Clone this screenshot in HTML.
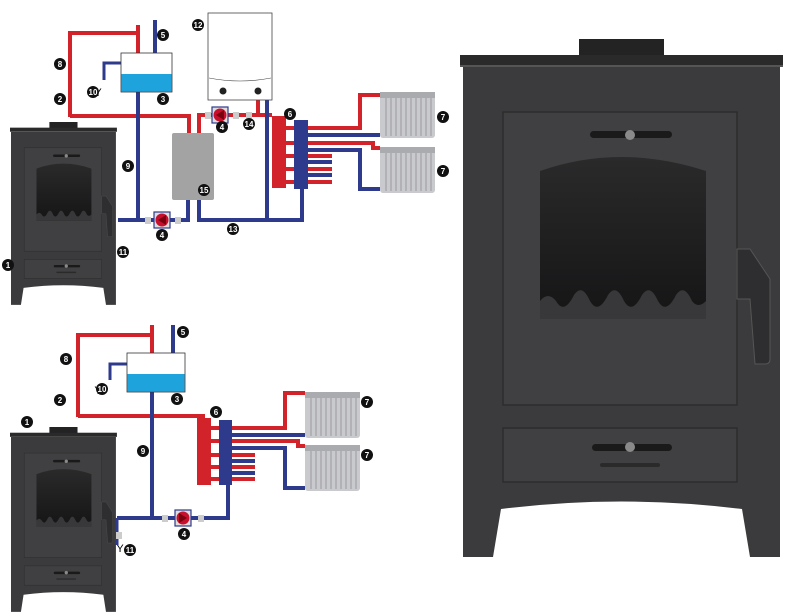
<!DOCTYPE html>
<html><head><meta charset="utf-8"><style>
html,body{margin:0;padding:0;background:#fff;}
svg{display:block}
text{font-family:"Liberation Sans",sans-serif;font-weight:bold;font-size:8px;fill:#fff;text-anchor:middle}
</style></head><body>
<svg width="792" height="614" viewBox="0 0 792 614" xmlns="http://www.w3.org/2000/svg">
<defs>
<linearGradient id="win" x1="0" y1="0" x2="0" y2="1"><stop offset="0" stop-color="#2a2a2b"/><stop offset="1" stop-color="#151516"/></linearGradient>
<g id="stove">
  <rect x="119" y="0" width="85" height="17" fill="#232324"/>
  <rect x="0" y="16" width="323" height="11" fill="#2a2a2b"/>
  <rect x="0" y="26" width="323" height="2" fill="#555"/>
  <path d="M3,28 H320 V518 H290 L282,470 Q161,455 41,470 L33,518 H3Z" fill="#3b3b3d"/>
  <rect x="43" y="73" width="234" height="293" fill="#404042" stroke="#2c2c2d" stroke-width="1.5"/>
  <path d="M80,132 Q160,104 246,132 V280 H80Z" fill="url(#win)"/>
  <path d="M80,280 V262 Q88,252 96,262 Q104,276 114,256 Q122,244 130,262 Q138,276 148,256 Q156,244 164,262 Q172,276 182,256 Q190,244 198,262 Q206,276 216,256 Q224,244 232,262 Q238,270 246,262 V280Z" fill="#38383a"/>
  <rect x="130" y="92" width="82" height="7" rx="3.5" fill="#1a1a1a"/>
  <circle cx="170" cy="96" r="5" fill="#8a8a8a"/>
  <path d="M277,210 H290 L310,240 V320 Q310,325 305,325 H295 L290,260 H277Z" fill="#2e2e30" stroke="#555" stroke-width="1"/>
  <rect x="43" y="389" width="234" height="54" fill="#404042" stroke="#2c2c2d" stroke-width="1.5"/>
  <rect x="132" y="405" width="80" height="7" rx="3.5" fill="#1a1a1a"/>
  <circle cx="170" cy="408" r="5" fill="#8a8a8a"/>
  <rect x="140" y="424" width="60" height="4" rx="2" fill="#2a2a2a"/>
</g>
<g id="rad">
  <rect x="0" y="0" width="55" height="46" rx="3" fill="#c9cacd"/>
  <g stroke="#9a9ba0" stroke-width="1">
  <line x1="6" y1="2" x2="6" y2="44"/><line x1="11" y1="2" x2="11" y2="44"/><line x1="16" y1="2" x2="16" y2="44"/><line x1="21" y1="2" x2="21" y2="44"/><line x1="26" y1="2" x2="26" y2="44"/><line x1="31" y1="2" x2="31" y2="44"/><line x1="36" y1="2" x2="36" y2="44"/><line x1="41" y1="2" x2="41" y2="44"/><line x1="46" y1="2" x2="46" y2="44"/><line x1="51" y1="2" x2="51" y2="44"/>
  </g>
  <rect x="0" y="0" width="55" height="6" fill="#aaabaf"/>
</g>
<g id="pump"><rect x="-8" y="-8" width="16" height="16" fill="#ddd" stroke="#2e3a8c" stroke-width="1.2"/><circle r="6.5" fill="#c8102e"/><path d="M-4,0 L4,-5 V5Z" fill="#7a0010"/></g>
</defs>

<use href="#stove" transform="translate(460,39)"/>
<use href="#stove" transform="translate(10,122) scale(0.331,0.353)"/>
<use href="#stove" transform="translate(10,427) scale(0.331,0.357)"/>

<!-- TOP DIAGRAM -->
<g fill="none" stroke-width="4">
 <path d="M70,117 V33 H138" stroke="#d2232a"/>
 <path d="M138,25 V53" stroke="#d2232a"/>
 <path d="M155,20 V53" stroke="#2e3a8c"/>
 <path d="M121,63 H104 V80" stroke="#2e3a8c" stroke-width="3"/>
 <path d="M70,116 H189 V133" stroke="#d2232a"/>
 <path d="M199,133 V115 H272" stroke="#d2232a"/>
 <path d="M258,100 V115" stroke="#d2232a"/>
 <path d="M138,92 V220" stroke="#2e3a8c"/>
 <path d="M118,220 H188 V200" stroke="#2e3a8c"/>
 <path d="M199,200 V220 H302 V188" stroke="#2e3a8c"/>
 <path d="M267,100 V220" stroke="#2e3a8c"/>
 <path d="M308,128 H360 V95 H380" stroke="#d2232a"/>
 <path d="M308,135 H380" stroke="#2e3a8c"/>
 <path d="M308,143 H373 V148 H380" stroke="#d2232a"/>
 <path d="M308,150 H360 V189 H380" stroke="#2e3a8c"/>
 <path d="M286,156 H332 M286,169 H332 M286,182 H332" stroke="#d2232a"/>
 <path d="M308,162 H332 M308,175 H332" stroke="#2e3a8c"/>
</g>
<rect x="121" y="53" width="51" height="39" fill="#fff" stroke="#333" stroke-width="0.8"/>
<rect x="121.5" y="74" width="50" height="17.5" fill="#1fa3dc"/>
<rect x="208" y="13" width="64" height="87" fill="#fff" stroke="#444" stroke-width="0.8"/>
<path d="M209,78 Q240,84 271,78" fill="none" stroke="#444" stroke-width="0.6"/>
<circle cx="223" cy="91" r="3.5" fill="#222"/><circle cx="258" cy="91" r="3.5" fill="#222"/>
<rect x="172" y="133" width="42" height="67" rx="2" fill="#a3a3a3"/>
<rect x="272" y="116" width="14" height="72" fill="#d2232a"/>
<rect x="294" y="120" width="14" height="69" fill="#2e3a8c"/>
<path d="M286,128 H294 M286,143 H294" stroke="#d2232a" stroke-width="4"/>
<use href="#rad" transform="translate(380,92)"/>
<use href="#rad" transform="translate(380,147)"/>
<use href="#pump" transform="translate(220,115)"/>
<use href="#pump" transform="translate(162,220)"/>
<g fill="#ccc"><rect x="205" y="112" width="6" height="7"/><rect x="233" y="112" width="6" height="7"/><rect x="246" y="112" width="6" height="7"/><rect x="145" y="217" width="6" height="7"/><rect x="175" y="217" width="6" height="7"/></g>
<text x="98" y="96" style="fill:#000;font-weight:normal;font-size:11px">Y</text>
<text x="98" y="394" style="fill:#000;font-weight:normal;font-size:11px">Y</text>
<text x="120" y="552" style="fill:#000;font-weight:normal;font-size:11px">Y</text>

<!-- BOTTOM DIAGRAM -->
<g fill="none" stroke-width="4">
 <path d="M78,417 V335 H152" stroke="#d2232a"/>
 <path d="M152,325 V353" stroke="#d2232a"/>
 <path d="M173,325 V353" stroke="#2e3a8c"/>
 <path d="M127,364 H110 V380" stroke="#2e3a8c" stroke-width="3"/>
 <path d="M78,416 H203 V420" stroke="#d2232a"/>
 <path d="M152,392 V518" stroke="#2e3a8c"/>
 <path d="M117,518 H228 V485" stroke="#2e3a8c"/>
 <path d="M117,518 V545" stroke="#2e3a8c" stroke-width="3"/>
 <path d="M232,428 H285 V393 H305" stroke="#d2232a"/>
 <path d="M232,435 H305" stroke="#2e3a8c"/>
 <path d="M232,441 H298 V446 H305" stroke="#d2232a"/>
 <path d="M232,448 H285 V488 H305" stroke="#2e3a8c"/>
 <path d="M210,455 H255 M210,467 H255 M210,479 H255" stroke="#d2232a"/>
 <path d="M232,461 H255 M232,473 H255" stroke="#2e3a8c"/>
</g>
<rect x="127" y="353" width="58" height="39" fill="#fff" stroke="#333" stroke-width="0.8"/>
<rect x="127.5" y="374" width="57" height="17.5" fill="#1fa3dc"/>
<rect x="197" y="418" width="14" height="67" fill="#d2232a"/>
<rect x="219" y="420" width="13" height="65" fill="#2e3a8c"/>
<path d="M211,428 H219 M211,441 H219" stroke="#d2232a" stroke-width="4"/>
<use href="#rad" transform="translate(305,392)"/>
<use href="#rad" transform="translate(305,445)"/>
<use href="#pump" transform="translate(183,518) scale(-1,1)"/>
<g fill="#ccc"><rect x="162" y="515" width="6" height="7"/><rect x="198" y="515" width="6" height="7"/><rect x="116" y="532" width="6" height="7"/></g>

<g>
<g fill="#111">
<circle cx="163" cy="35" r="6"/><circle cx="198" cy="25" r="6"/><circle cx="60" cy="64" r="6"/><circle cx="93" cy="92" r="6"/><circle cx="163" cy="99" r="6"/><circle cx="60" cy="99" r="6"/><circle cx="222" cy="127" r="6"/><circle cx="249" cy="124" r="6"/><circle cx="290" cy="114" r="6"/><circle cx="443" cy="117" r="6"/><circle cx="443" cy="171" r="6"/><circle cx="128" cy="166" r="6"/><circle cx="204" cy="190" r="6"/><circle cx="162" cy="235" r="6"/><circle cx="233" cy="229" r="6"/><circle cx="123" cy="252" r="6"/><circle cx="8" cy="265" r="6"/>
<circle cx="183" cy="332" r="6"/><circle cx="66" cy="359" r="6"/><circle cx="102" cy="389" r="6"/><circle cx="60" cy="400" r="6"/><circle cx="177" cy="399" r="6"/><circle cx="27" cy="422" r="6"/><circle cx="216" cy="412" r="6"/><circle cx="367" cy="402" r="6"/><circle cx="367" cy="455" r="6"/><circle cx="143" cy="451" r="6"/><circle cx="184" cy="534" r="6"/><circle cx="130" cy="550" r="6"/>
</g>
<text x="163" y="38">5</text><text x="198" y="28">12</text><text x="60" y="67">8</text><text x="93" y="95">10</text><text x="163" y="102">3</text><text x="60" y="102">2</text><text x="222" y="130">4</text><text x="249" y="127">14</text><text x="290" y="117">6</text><text x="443" y="120">7</text><text x="443" y="174">7</text><text x="128" y="169">9</text><text x="204" y="193">15</text><text x="162" y="238">4</text><text x="233" y="232">13</text><text x="123" y="255">11</text><text x="8" y="268">1</text>
<text x="183" y="335">5</text><text x="66" y="362">8</text><text x="102" y="392">10</text><text x="60" y="403">2</text><text x="177" y="402">3</text><text x="27" y="425">1</text><text x="216" y="415">6</text><text x="367" y="405">7</text><text x="367" y="458">7</text><text x="143" y="454">9</text><text x="184" y="537">4</text><text x="130" y="553">11</text>
</g>
</svg>
</body></html>
